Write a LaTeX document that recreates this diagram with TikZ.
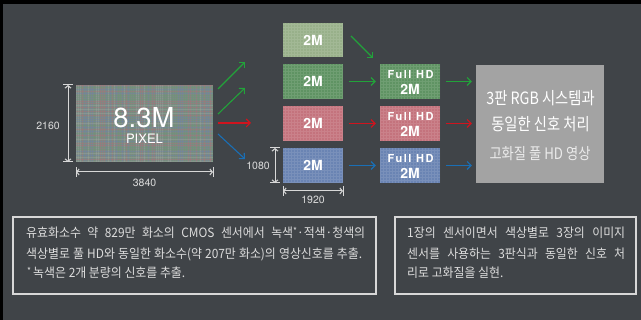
\documentclass[tikz,border=0pt]{standalone}
\usepackage{fontspec}
\setmainfont{Liberation Sans}
\newfontfamily\hv{TeX Gyre Heros}
\newfontfamily\hvsp[LetterSpace=14]{TeX Gyre Heros}
\newfontfamily\kr[FakeStretch=0.93]{Noto Sans CJK KR}
\newfontfamily\krc[FakeStretch=0.84]{Noto Sans CJK KR}
\usetikzlibrary{arrows.meta}
\definecolor{bg}{HTML}{404448}
\definecolor{gA}{HTML}{98B08A}
\definecolor{gB}{HTML}{5F9363}
\definecolor{rB}{HTML}{C4737D}
\definecolor{bB}{HTML}{6A84B3}
\definecolor{greybox}{HTML}{A3A3A3}
\definecolor{arG}{HTML}{22A33A}
\definecolor{arR}{HTML}{D0141E}
\definecolor{arB}{HTML}{1A6FB5}
\definecolor{dimc}{HTML}{D8D8D8}
\definecolor{txt}{HTML}{DCDCDC}
\definecolor{senbase}{HTML}{7C8A84}
\definecolor{c1}{HTML}{B07078}
\definecolor{c2}{HTML}{6A9A72}
\definecolor{c3}{HTML}{6C84AE}
\definecolor{c4}{HTML}{A0ACA2}
\begin{document}
\begin{tikzpicture}[x=1pt,y=-1pt,
  cell/.style={minimum width=60pt,minimum height=35pt,inner sep=0pt,text=white,
    font=\hv\bfseries\fontsize{14}{14}\selectfont,
    path picture={\draw[white,opacity=0.10,step=3pt,line width=0.4pt]
      (path picture bounding box.south west) grid (path picture bounding box.north east);}},
  lbl/.style={inner sep=0pt,text=white,font=\hv\bfseries},
  arr/.style={line width=1.1pt,-{Straight Barb[length=4pt,width=8pt]}},
  dim/.style={draw=dimc,line width=1pt,{Straight Barb[length=2.5pt,width=6pt]}-{Straight Barb[length=2.5pt,width=6pt]}},
  dimtick/.style={draw=dimc,line width=1pt},
  dimlbl/.style={inner sep=0pt,text=txt,font=\hv\fontsize{10.5}{10.5}\selectfont},
  note/.style={draw=dimc,line width=1.2pt},
  notetxt/.style={inner sep=0pt,anchor=west,text=txt,font=\kr\fontsize{12.8}{12.8}\selectfont}
]
\useasboundingbox (0,0) rectangle (641,320);
\fill[bg] (0,0) rectangle (641,320);
\fill[black] (0,0) rectangle (641,4);
\fill[black] (0,0) rectangle (3,320);

% big sensor
\node[minimum width=137pt,minimum height=77pt,inner sep=0pt,fill=senbase] (sensor) at (144.5,123.5) {};
\begin{scope}
\clip (76,85) rectangle (213,162);
\pgfmathsetseed{11}
\foreach \i in {0,...,68}{
  \pgfmathrandominteger{\r}{1}{4}
  \pgfmathsetmacro{\xx}{76.5+\i*2}
  \draw[c\r,opacity=0.35,line width=0.9pt] (\xx,85) -- (\xx,162);
}
\foreach \i in {0,...,38}{
  \pgfmathrandominteger{\r}{1}{4}
  \pgfmathsetmacro{\yy}{85.5+\i*2}
  \draw[c\r,opacity=0.35,line width=0.9pt] (76,\yy) -- (213,\yy);
}
\end{scope}
\node[inner sep=0pt,text=white,font=\hv\fontsize{27.5}{27.5}\selectfont] (bigt) at (144,117.5) {8.3M};
\node[inner sep=0pt,text=white,font=\hv\fontsize{13}{13}\selectfont] (pix) at (144.5,138.5) {PIXEL};

% dimensions of sensor
\coordinate (v1) at (68,85); \coordinate (v2) at (68,162);
\draw[dim] (v1) -- (v2);
\draw[dimtick] ([xshift=-5pt]v1) -- ([xshift=5pt]v1);
\draw[dimtick] ([xshift=-5pt]v2) -- ([xshift=5pt]v2);
\node[dimlbl] (l2160) at (48,126) {2160};
\coordinate (h1) at (76,172); \coordinate (h2) at (213,172);
\draw[dim] (h1) -- (h2);
\draw[dimtick] ([yshift=-5pt]h1) -- ([yshift=5pt]h1);
\draw[dimtick] ([yshift=-5pt]h2) -- ([yshift=5pt]h2);
\node[dimlbl] (l3840) at (144.5,183) {3840};

% fan-out arrows
\coordinate (s1) at (218,89);  \coordinate (e1) at (245,62);
\coordinate (s2) at (218,114); \coordinate (e2) at (245,88);
\coordinate (s3) at (218,123); \coordinate (e3) at (251,123);
\coordinate (s4) at (218,134); \coordinate (e4) at (245,159);
\draw[arr,arG] (s1) -- (e1);
\draw[arr,arG] (s2) -- (e2);
\draw[arr,arR] (s3) -- (e3);
\draw[arr,arB] (s4) -- (e4);

% 2M cells
\node[cell,fill=gA,minimum height=34pt] (b1) at (313,40) {2M};
\node[cell,fill=gB] (b2) at (313,81.5) {2M};
\node[cell,fill=rB] (b3) at (313,123.5) {2M};
\node[cell,fill=bB] (b4) at (313,165.5) {2M};

% dims of cell
\coordinate (v3) at (275,148); \coordinate (v4) at (275,183);
\draw[dim] (v3) -- (v4);
\draw[dimtick] ([xshift=-5pt]v3) -- ([xshift=5pt]v3);
\draw[dimtick] ([xshift=-5pt]v4) -- ([xshift=5pt]v4);
\node[dimlbl] (l1080) at (258,166) {1080};
\coordinate (h3) at (283,191); \coordinate (h4) at (343,191);
\draw[dim] (h3) -- (h4);
\draw[dimtick] ([yshift=-5pt]h3) -- ([yshift=5pt]h3);
\draw[dimtick] ([yshift=-5pt]h4) -- ([yshift=5pt]h4);
\node[dimlbl] (l1920) at (313,200) {1920};

% Full HD cells
\node[cell,fill=gB] (f2) at (410,81.5) {};
\node[cell,fill=rB] (f3) at (410,123.5) {};
\node[cell,fill=bB] (f4) at (410,165.5) {};
\foreach \n/\y in {2/81.5,3/123.5,4/165.5}{
  \node[lbl,font=\hvsp\bfseries\fontsize{11}{11}\selectfont] (fh\n) at (410.5,\y-7) {Full HD};
  \node[lbl,font=\hv\bfseries\fontsize{14}{14}\selectfont] (fm\n) at (410,\y+7.5) {2M};
}

% cell arrows
\coordinate (d1) at (351,36); \coordinate (d2) at (373,58);
\draw[arr,arG] (d1) -- (d2);
\draw[arr,arG,shorten <=6pt,shorten >=4pt] (b2) -- (f2);
\draw[arr,arR,shorten <=6pt,shorten >=4pt] (b3) -- (f3);
\draw[arr,arB,shorten <=6pt,shorten >=4pt] (b4) -- (f4);

% grey box
\node[minimum width=128pt,minimum height=118pt,inner sep=0pt,fill=greybox] (g) at (540,124) {};
\node[inner sep=0pt,text=white,font=\krc\fontsize{17}{17}\selectfont] (g1) at (540.5,98) {3판 RGB 시스템과};
\node[inner sep=0pt,text=white,font=\krc\fontsize{17}{17}\selectfont] (g2) at (540.5,124) {동일한 신호 처리};
\node[inner sep=0pt,text=white!92!black,font=\krc\fontsize{15.8}{15.8}\selectfont] (g3) at (540,154) {고화질 풀 HD 영상};

\draw[arr,arG,shorten <=6pt,shorten >=4pt] (f2.east) -- (f2.east -| g.west);
\draw[arr,arR,shorten <=6pt,shorten >=4pt] (f3.east) -- (f3.east -| g.west);
\draw[arr,arB,shorten <=6pt,shorten >=4pt] (f4.east) -- (f4.east -| g.west);

% note boxes
\node[note,minimum width=363pt,minimum height=77pt,inner sep=0pt] (n1) at (194.5,255.5) {};
\node[note,minimum width=241pt,minimum height=77pt,inner sep=0pt] (n2) at (515.5,255.5) {};
\node[notetxt] (t11) at (26,233) {\makebox[339pt][s]{유효화소수 약 829만 화소의 CMOS 센서에서 녹색\raisebox{0.25em}{\small *}·적색·청색의}};
\node[notetxt] (t12) at (26,254) {\makebox[336pt][s]{색상별로 풀 HD와 동일한 화소수(약 207만 화소)의 영상신호를 추출.}};
\node[notetxt] (t13) at (27,273) {\raisebox{0.25em}{\small *}\,녹색은 2개 분량의 신호를 추출.};
\node[notetxt] (t21) at (407,233) {\makebox[218pt][s]{1장의 센서이면서 색상별로 3장의 이미지}};
\node[notetxt] (t22) at (407,254) {\makebox[218pt][s]{센서를 사용하는 3판식과 동일한 신호 처}};
\node[notetxt] (t23) at (407,273) {리로 고화질을 실현.};
\end{tikzpicture}
\end{document}
